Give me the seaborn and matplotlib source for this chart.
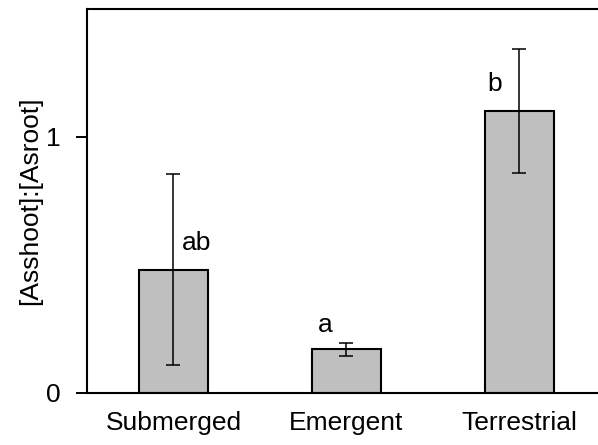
import matplotlib
matplotlib.use("Agg")
import matplotlib.pyplot as plt
import seaborn as sns
import numpy as np

categories = ["Submerged", "Emergent", "Terrestrial"]
means = [0.482, 0.170, 1.102]
errors = [0.374, 0.027, 0.243]
letters = ["ab", "a", "b"]
yticks = [0, 1]
ylabel = "[Asshoot]:[Asroot]"

sns.set_style("white")
plt.rcParams["font.family"] = ["Liberation Sans", "DejaVu Sans"]
plt.rcParams["text.color"] = "black"
plt.rcParams["axes.labelcolor"] = "black"
plt.rcParams["xtick.color"] = "black"
plt.rcParams["ytick.color"] = "black"

fig = plt.figure(figsize=(5.98, 4.45), dpi=100)
ax = fig.add_axes([87/598, (445-393)/445, (598-87)/598, (393-9)/445])

sns.barplot(x=categories, y=means, color="#bfbfbf", edgecolor="black",
            linewidth=1.5, width=0.4, saturation=1, errorbar=None, ax=ax)
xpos = np.arange(len(categories))
ax.errorbar(xpos, means, yerr=errors, fmt="none", ecolor="black",
            elinewidth=1.1, capsize=4.7, capthick=1.1)

# significance letters
offs = [(0.049, 0.075, "left"), (-0.124, 0.068, "center"), (-0.142, 0.078, "center")]
for i, (lab, (dx, dy, ha)) in enumerate(zip(letters, offs)):
    ax.text(xpos[i] + dx, means[i] + dy, lab, fontsize=19, ha=ha, va="baseline",
            color="black")

ax.set_xlim(-0.5, 2.454)
ax.set_ylim(0, 1.5)
ax.set_yticks(yticks)
ax.set_yticklabels([str(t) for t in yticks])
ax.set_ylabel(ylabel, fontsize=19, labelpad=3, color="black")
ax.set_xlabel("")
ax.tick_params(axis="y", which="major", direction="out", length=8, width=1.4,
               labelsize=19, pad=11, left=True, colors="black")
ax.tick_params(axis="x", length=0, labelsize=19, pad=13, colors="black")
for s in ["left", "top", "bottom"]:
    ax.spines[s].set_linewidth(1.5)
    ax.spines[s].set_color("black")
ax.spines["right"].set_visible(False)

fig.savefig("out.png", dpi=100)
